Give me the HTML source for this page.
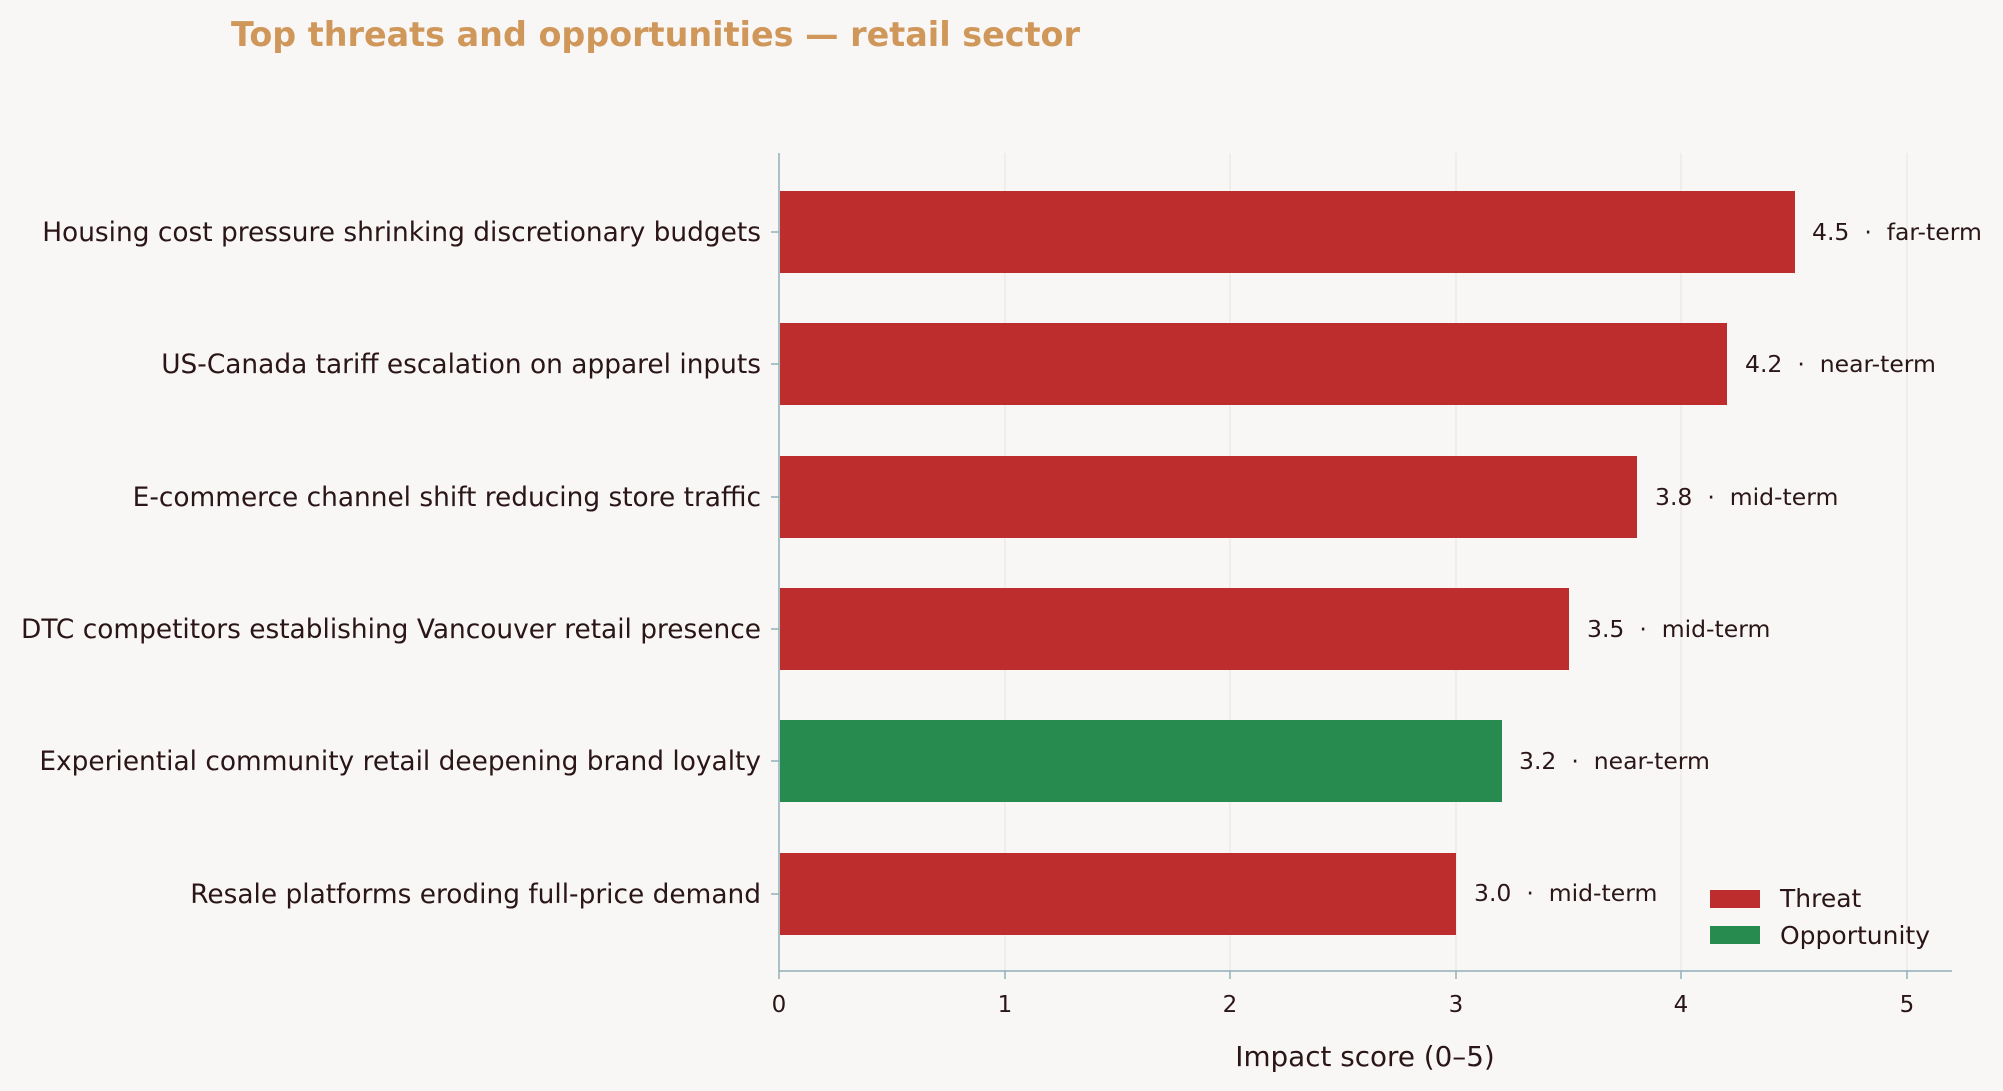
<!DOCTYPE html>
<html><head><style>html,body{margin:0;padding:0;background:#f9f7f5;}svg{display:block}</style></head>
<body>
<svg width="2003" height="1091" viewBox="0 0 2003 1091" xmlns="http://www.w3.org/2000/svg" font-family="'DejaVu Sans', 'Liberation Sans', sans-serif">
<rect width="2003" height="1091" fill="#f9f7f5"/>
<text x="231" y="46" font-size="33.4" font-weight="bold" fill="#d0975a">Top threats and opportunities — retail sector</text>
<g stroke="#e6e3e0" stroke-width="1">
<line x1="1005" y1="153" x2="1005" y2="971"/><line x1="1230" y1="153" x2="1230" y2="971"/><line x1="1456" y1="153" x2="1456" y2="971"/><line x1="1681" y1="153" x2="1681" y2="971"/><line x1="1907" y1="153" x2="1907" y2="971"/>
</g>
<g>
<rect x="780" y="191" width="1015" height="82" fill="#bd2d2d"/>
<rect x="780" y="323" width="947" height="82" fill="#bd2d2d"/>
<rect x="780" y="456" width="857" height="82" fill="#bd2d2d"/>
<rect x="780" y="588" width="789" height="82" fill="#bd2d2d"/>
<rect x="780" y="720" width="722" height="82" fill="#278a4f"/>
<rect x="780" y="853" width="676" height="82" fill="#bd2d2d"/>
</g>
<g stroke="#8fb0b8" stroke-width="1.5">
<line x1="779" y1="153" x2="779" y2="971"/><line x1="779" y1="971" x2="1952" y2="971"/>
<line x1="779" y1="971" x2="779" y2="979"/><line x1="1005" y1="971" x2="1005" y2="979"/><line x1="1230" y1="971" x2="1230" y2="979"/><line x1="1456" y1="971" x2="1456" y2="979"/><line x1="1681" y1="971" x2="1681" y2="979"/><line x1="1907" y1="971" x2="1907" y2="979"/>
<line x1="771" y1="232" x2="779" y2="232"/><line x1="771" y1="364" x2="779" y2="364"/><line x1="771" y1="497" x2="779" y2="497"/><line x1="771" y1="629" x2="779" y2="629"/><line x1="771" y1="761" x2="779" y2="761"/><line x1="771" y1="894" x2="779" y2="894"/>
</g>
<g font-size="23" fill="#2a1518" text-anchor="middle">
<text x="779" y="1012">0</text><text x="1005" y="1012">1</text><text x="1230" y="1012">2</text><text x="1456" y="1012">3</text><text x="1681" y="1012">4</text><text x="1907" y="1012">5</text>
</g>
<text x="1365" y="1066" font-size="27.8" fill="#2a1518" text-anchor="middle">Impact score (0–5)</text>
<g font-size="26.4" fill="#2a1518" text-anchor="end">
<text x="761" y="241">Housing cost pressure shrinking discretionary budgets</text>
<text x="761" y="373">US-Canada tariff escalation on apparel inputs</text>
<text x="761" y="506">E-commerce channel shift reducing store traffic</text>
<text x="761" y="638">DTC competitors establishing Vancouver retail presence</text>
<text x="761" y="770">Experiential community retail deepening brand loyalty</text>
<text x="761" y="903">Resale platforms eroding full-price demand</text>
</g>
<g font-size="23.5" fill="#2a1518">
<text x="1812" y="240">4.5&#160;&#160;·&#160;&#160;far-term</text>
<text x="1745" y="372">4.2&#160;&#160;·&#160;&#160;near-term</text>
<text x="1655" y="505">3.8&#160;&#160;·&#160;&#160;mid-term</text>
<text x="1587" y="637">3.5&#160;&#160;·&#160;&#160;mid-term</text>
<text x="1519" y="769">3.2&#160;&#160;·&#160;&#160;near-term</text>
<text x="1474" y="901">3.0&#160;&#160;·&#160;&#160;mid-term</text>
</g>
<rect x="1710" y="890" width="50" height="18" fill="#bd2d2d"/>
<rect x="1710" y="926" width="50" height="18" fill="#278a4f"/>
<g font-size="25" fill="#2a1518">
<text x="1780" y="907">Threat</text>
<text x="1780" y="944">Opportunity</text>
</g>
</svg>
</body></html>
